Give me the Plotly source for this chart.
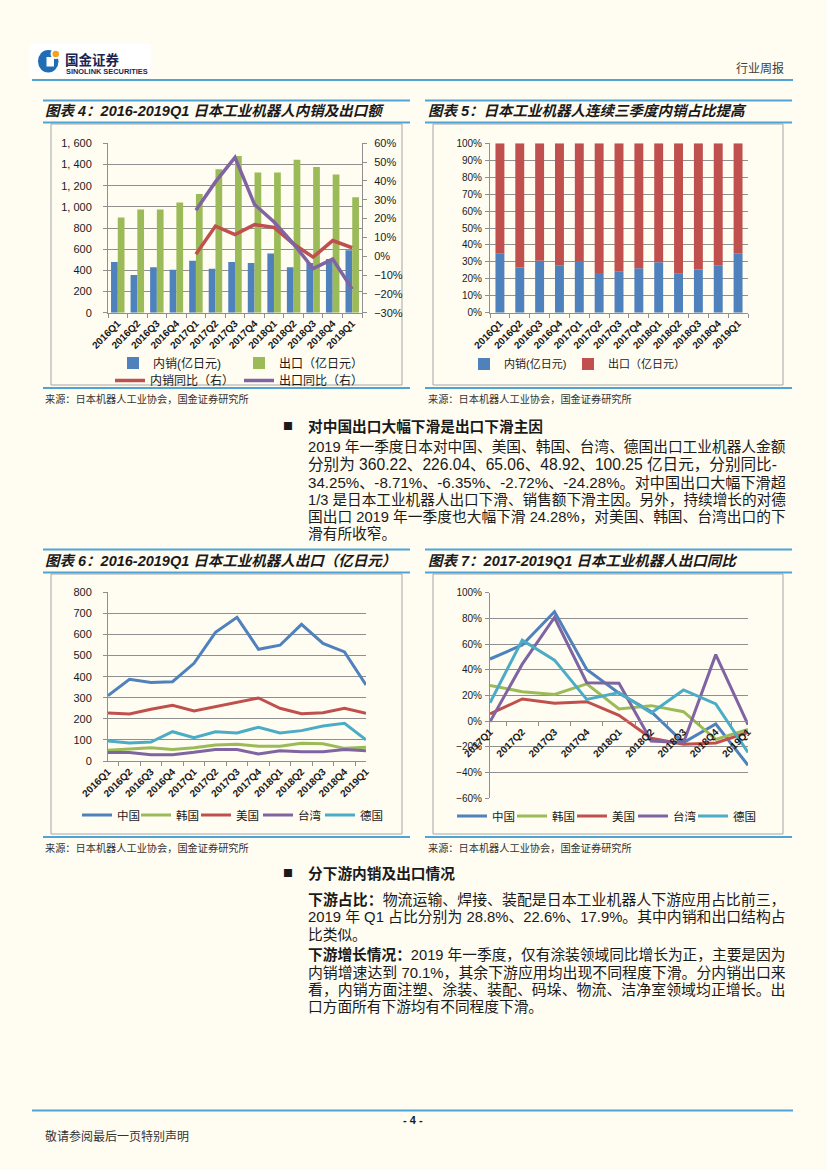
import re
import plotly.graph_objects as go

W, H = 827, 1170
BG = "#FFFCF2"
RULE = "#4FA3D5"
FRAME = "#A6A6A6"
GRID = "#8F8F8F"
TXT = "#1A1A1A"
BLUE = "#4F81BD"
GREEN = "#9BBB59"
RED = "#C0504D"
PURPLE = "#8064A2"
CYAN = "#4BACC6"
CJK = "Noto Sans CJK SC"
MIX = "Liberation Sans, Noto Sans CJK SC"

# ---------------- data ----------------
quarters = ["2016Q1", "2016Q2", "2016Q3", "2016Q4", "2017Q1", "2017Q2", "2017Q3",
            "2017Q4", "2018Q1", "2018Q2", "2018Q3", "2018Q4", "2019Q1"]
yoy_quarters = ["2017Q1", "2017Q2", "2017Q3", "2017Q4", "2018Q1", "2018Q2",
                "2018Q3", "2018Q4", "2019Q1"]

domestic = [480, 355, 430, 405, 490, 415, 480, 470, 560, 430, 470, 507, 590]
export = [900, 975, 975, 1040, 1120, 1355, 1480, 1325, 1325, 1445, 1375, 1305, 1090]
domestic_yoy = [1.0, 16.0, 11.5, 16.8, 15.3, 6.5, -0.5, 8.3, 4.5]
export_yoy = [24.4, 39.5, 52.5, 27.5, 18.2, 6.5, -6.5, -1.5, -17.5]

left_ticks = [0, 200, 400, 600, 800, 1000, 1200, 1400, 1600]
left_tick_text = ["0", "200", "400", "600", "800", "1,\u00a0000", "1,\u00a0200",
                  "1,\u00a0400", "1,\u00a0600"]

countries = ["中国", "韩国", "美国", "台湾", "德国"]
exp_china = [310, 387, 372, 376, 463, 610, 681, 530, 549, 648, 558, 517, 360.22]
exp_korea = [51, 58, 63, 55, 63, 76, 79, 70, 70, 84, 82, 60, 65.06]
exp_us = [228, 223, 245, 264, 237, 258, 278, 299, 250, 224, 229, 250, 226.04]
exp_taiwan = [40, 40, 30, 30, 41, 55, 54, 33, 49, 44, 44, 55, 48.92]
exp_germany = [95, 85, 90, 139, 111, 139, 133, 160, 133, 144, 166, 179, 100.25]

yoy_china = [48.4, 59.3, 85.2, 40.3, 21.7, 7.4, -16.7, -2.2, -34.25]
yoy_korea = [27.9, 23.0, 20.8, 29.0, 9.5, 12.1, 7.4, -14.1, -6.35]
yoy_us = [5.6, 17.3, 13.9, 15.2, 4.6, -13.3, -18.0, -17.0, -8.71]
yoy_taiwan = [-0.4, 44.4, 80.7, 30.0, 29.5, -15.4, -16.7, 51.8, -2.72]
yoy_germany = [14.4, 63.1, 47.5, 17.0, 22.3, 6.4, 24.3, 13.4, -24.28]

country_colors = [BLUE, GREEN, RED, PURPLE, CYAN]

# ---------------- text ----------------
titles = [
    "图表 4：2016-2019Q1 日本工业机器人内销及出口额",
    "图表 5：日本工业机器人连续三季度内销占比提高",
    "图表 6：2016-2019Q1 日本工业机器人出口（亿日元）",
    "图表 7：2017-2019Q1 日本工业机器人出口同比",
]
source_text = "来源：日本机器人工业协会，国金证券研究所"
heading1 = "对中国出口大幅下滑是出口下滑主因"
para1 = [
    "2019 年一季度日本对中国、美国、韩国、台湾、德国出口工业机器人金额",
    "分别为 360.22、226.04、65.06、48.92、100.25 亿日元，分别同比-",
    "34.25%、-8.71%、-6.35%、-2.72%、-24.28%。对中国出口大幅下滑超",
    "1/3 是日本工业机器人出口下滑、销售额下滑主因。另外，持续增长的对德",
    "国出口 2019 年一季度也大幅下滑 24.28%，对美国、韩国、台湾出口的下",
    "滑有所收窄。",
]
heading2 = "分下游内销及出口情况"
para2 = [
    "<b>下游占比：</b>物流运输、焊接、装配是日本工业机器人下游应用占比前三，",
    "2019 年 Q1 占比分别为 28.8%、22.6%、17.9%。其中内销和出口结构占",
    "比类似。",
]
para3 = [
    "<b>下游增长情况：</b>2019 年一季度，仅有涂装领域同比增长为正，主要是因为",
    "内销增速达到 70.1%，其余下游应用均出现不同程度下滑。分内销出口来",
    "看，内销方面注塑、涂装、装配、码垛、物流、洁净室领域均正增长。出",
    "口方面所有下游均有不同程度下滑。",
]


def fx(v):
    return v / W


def fy(v):
    return 1 - v / H


fig = go.Figure()
legends = {}
_leg_count = [0]


def new_legend(text_x, text_y, size):
    _leg_count[0] += 1
    n = _leg_count[0]
    lid = "legend" if n == 1 else "legend%d" % n
    legends[lid] = dict(orientation="h", xanchor="left", yanchor="middle",
                        x=fx(text_x - 40), y=fy(text_y), bgcolor="rgba(0,0,0,0)",
                        borderwidth=0, itemwidth=30, tracegroupgap=0,
                        font=dict(family=MIX, size=size, color=TXT))
    return lid


# ---------------- chart 4 ----------------
fig.add_bar(x=quarters, y=domestic, name="内销(亿日元)", marker_color=BLUE,
            xaxis="x", yaxis="y", legend=new_legend(153, 363, 12))
fig.add_bar(x=quarters, y=export, name="出口（亿日元）", marker_color=GREEN,
            xaxis="x", yaxis="y", legend=new_legend(279, 363, 12))
fig.add_scatter(x=yoy_quarters, y=domestic_yoy, name="内销同比（右）", mode="lines",
                line=dict(color=RED, width=3.5), xaxis="x", yaxis="y2",
                legend=new_legend(150, 380.5, 12))
fig.add_scatter(x=yoy_quarters, y=export_yoy, name="出口同比（右）", mode="lines",
                line=dict(color=PURPLE, width=3.5), xaxis="x", yaxis="y2",
                legend=new_legend(279, 380.5, 12))

# ---------------- chart 5 ----------------
dom_share = [100 * d / (d + e) for d, e in zip(domestic, export)]
exp_share = [100 * e / (d + e) for d, e in zip(domestic, export)]
fig.add_bar(x=quarters, y=dom_share, name="内销(亿日元)", marker_color=BLUE,
            width=0.45, offset=-0.225, xaxis="x2", yaxis="y3",
            legend=new_legend(504, 364, 11))
fig.add_bar(x=quarters, y=exp_share, base=dom_share, name="出口（亿日元）", marker_color=RED,
            width=0.45, offset=-0.225, xaxis="x2", yaxis="y3",
            legend=new_legend(608, 364, 11))

# ---------------- chart 6 ----------------
for name, vals, col, tx in zip(countries,
                               [exp_china, exp_korea, exp_us, exp_taiwan, exp_germany],
                               country_colors, [117, 176, 236, 298, 360]):
    fig.add_scatter(x=quarters, y=vals, name=name, mode="lines",
                    line=dict(color=col, width=3), xaxis="x3", yaxis="y4",
                    legend=new_legend(tx, 815, 11.5))

# ---------------- chart 7 ----------------
for name, vals, col, tx in zip(countries,
                               [yoy_china, yoy_korea, yoy_us, yoy_taiwan, yoy_germany],
                               country_colors, [492, 552, 612, 673, 733]):
    fig.add_scatter(x=yoy_quarters, y=vals, name=name, mode="lines",
                    line=dict(color=col, width=3), xaxis="x4", yaxis="y5",
                    legend=new_legend(tx, 816, 11.5))


def xax(domain, anchor, **kw):
    d = dict(domain=domain, anchor=anchor, type="category", tickangle=-45,
             showline=True, linecolor=GRID, linewidth=1, ticks="outside",
             tickson="boundaries", ticklen=4, tickcolor=GRID, showgrid=False,
             zeroline=False, fixedrange=True, automargin=False,
             tickfont=dict(family=MIX, size=10, color=TXT, weight="bold"))
    d.update(kw)
    return d


def yax(domain, anchor, size=11, **kw):
    d = dict(domain=domain, anchor=anchor, showgrid=True, gridcolor=GRID, gridwidth=1,
             showline=True, linecolor=GRID, linewidth=1, ticks="outside", ticklen=4,
             tickcolor=GRID, zeroline=False, fixedrange=True, automargin=False,
             tickfont=dict(family=MIX, size=size, color=TXT))
    d.update(kw)
    return d


c4_y = [fy(312.7), fy(143.3)]
c5_y = [fy(312.7), fy(143.3)]
c6_y = [fy(761), fy(592.3)]
c7_y = [fy(798.3), fy(592.7)]
c7_zero = c7_y[0] + (60 / 160) * (c7_y[1] - c7_y[0])

fig.update_layout(
    template="none",
    xaxis=xax([fx(108), fx(362)], "y"),
    yaxis=yax(c4_y, "x", range=[0, 1600], tickvals=left_ticks, ticktext=left_tick_text,
              ticklabelstandoff=9),
    yaxis2=yax(c4_y, "x", overlaying="y", side="right", range=[-30, 60], dtick=10,
               ticksuffix="%", showgrid=False, ticklabelstandoff=5),
    xaxis2=xax([fx(490), fx(748)], "y3"),
    yaxis3=yax(c5_y, "x2", size=10, range=[0, 100], dtick=10, ticksuffix="%",
               ticklabelstandoff=1),
    xaxis3=xax([fx(108), fx(366)], "y4"),
    yaxis4=yax(c6_y, "x3", range=[0, 800], dtick=100, ticklabelstandoff=9),
    xaxis4=xax([fx(490), fx(748)], "free", position=c7_zero),
    yaxis5=yax(c7_y, "x4", size=10, range=[-60, 100], dtick=20, ticksuffix="%",
               ticklabelstandoff=1),
    bargap=0.31,
    bargroupgap=0,
    barmode="group",
)
fig.update_layout(**legends)

# ---------------- shapes ----------------
shapes = []


def hline(x0, x1, y, color=RULE, width=2):
    shapes.append(dict(type="line", xref="paper", yref="paper", x0=fx(x0), x1=fx(x1),
                       y0=fy(y), y1=fy(y), line=dict(color=color, width=width)))


def rect(x0, y0, x1, y1, line=FRAME, fill="rgba(0,0,0,0)", lw=1, kind="rect"):
    shapes.append(dict(type=kind, xref="paper", yref="paper", x0=fx(x0), x1=fx(x1),
                       y0=fy(y1), y1=fy(y0), line=dict(color=line, width=lw),
                       fillcolor=fill, layer="below"))


# logo
rect(29, 44, 151, 78, line="rgba(0,0,0,0)", fill="#FFFFFF", lw=0)
rect(38, 50, 58.5, 72.5, line="rgba(0,0,0,0)", fill="#1F6DB5", lw=0, kind="circle")
rect(46.5, 57, 54, 66.5, line="rgba(0,0,0,0)", fill="#FFFFFF", lw=0)
rect(50.5, 48.5, 61, 59, line="rgba(0,0,0,0)", fill="#FFFFFF", lw=0, kind="circle")
rect(52.5, 50.8, 59, 57.3, line="rgba(0,0,0,0)", fill="#F4A21E", lw=0, kind="circle")

hline(32, 793, 80)
for (x0, x1) in [(43, 410), (425, 792)]:
    hline(x0, x1, 100.5)
    hline(x0, x1, 122.5)
    hline(x0, x1, 388)
    hline(x0, x1, 549.5)
    hline(x0, x1, 572.5)
    hline(x0, x1, 837)
rect(51, 124, 402, 385)
rect(433, 124, 783, 385)
rect(51, 574, 402, 834)
rect(433, 574, 783, 834)
hline(32, 793, 1110.5)

fig.update_layout(shapes=shapes)

# ---------------- annotations ----------------
ann = []


def text(x, y, s, size, family=CJK, color=TXT, xanchor="left", **kw):
    ann.append(dict(x=fx(x), y=fy(y), xref="paper", yref="paper", text=s, showarrow=False,
                    xanchor=xanchor, yanchor="middle", borderpad=0, borderwidth=0,
                    font=dict(family=family, size=size, color=color, **kw)))


def em_width(s):
    s = re.sub(r"<[^>]+>", "", s)
    w = 0.0
    for ch in s:
        if ord(ch) > 0x2E80:
            w += 1.0
        elif ch.isdigit():
            w += 0.556
        elif ch in ".,/ ":
            w += 0.278
        elif ch == "%":
            w += 0.889
        elif ch == "-":
            w += 0.333
        elif ch == "Q":
            w += 0.778
        else:
            w += 0.6
    return w


def paragraph(lines, ys, x0=308, x1=786, base=14.7):
    for i, (ln, y) in enumerate(zip(lines, ys)):
        if i < len(lines) - 1:
            size = max(13.8, min(15.6, (x1 - x0) / em_width(ln)))
        else:
            size = base
        text(x0, y, ln, size, family=MIX)


text(65, 59, "<b>国金证券</b>", 13.5, color="#1B2550")
text(66, 71.5, "<b>SINOLINK SECURITIES</b>", 7.4, family="Liberation Sans", color="#1B2550")
text(784, 67, "行业周报", 12, color="#404040", xanchor="right")

text(45, 111, "<b><i>" + titles[0] + "</i></b>", 14.5, family=MIX)
text(428, 111, "<b><i>" + titles[1] + "</i></b>", 14.5, family=MIX)
text(45, 560.5, "<b><i>" + titles[2] + "</i></b>", 14.5, family=MIX)
text(428, 560.5, "<b><i>" + titles[3] + "</i></b>", 14.5, family=MIX)

for y in (398, 847):
    text(45, y, source_text, 10.2, color="#333333")
    text(428, y, source_text, 10.2, color="#333333")

text(288, 425, "■", 10, color=TXT, xanchor="center")
text(308, 425, "<b>" + heading1 + "</b>", 14.7)
paragraph(para1, [447, 464.5, 482, 499.5, 517, 534])

text(288, 872.5, "■", 10, color=TXT, xanchor="center")
text(308, 872.5, "<b>" + heading2 + "</b>", 14.7)
paragraph(para2, [899.5, 917, 934.5])
paragraph(para3, [954.5, 972, 989.5, 1007])

text(413, 1120, "<b>- 4 -</b>", 11, family="Liberation Sans", xanchor="center")
text(45, 1135, "敬请参阅最后一页特别声明", 12, color="#333333")

fig.update_layout(annotations=ann)

fig.update_layout(
    width=W, height=H, autosize=False,
    margin=dict(l=0, r=0, t=0, b=0, pad=0, autoexpand=False),
    paper_bgcolor=BG, plot_bgcolor=BG,
    font=dict(family=MIX, color=TXT),
    showlegend=True,
)

fig.write_html("out.html", config={"displayModeBar": False},
               post_script="document.body.style.margin='0';document.body.style.background='" + BG + "';")
